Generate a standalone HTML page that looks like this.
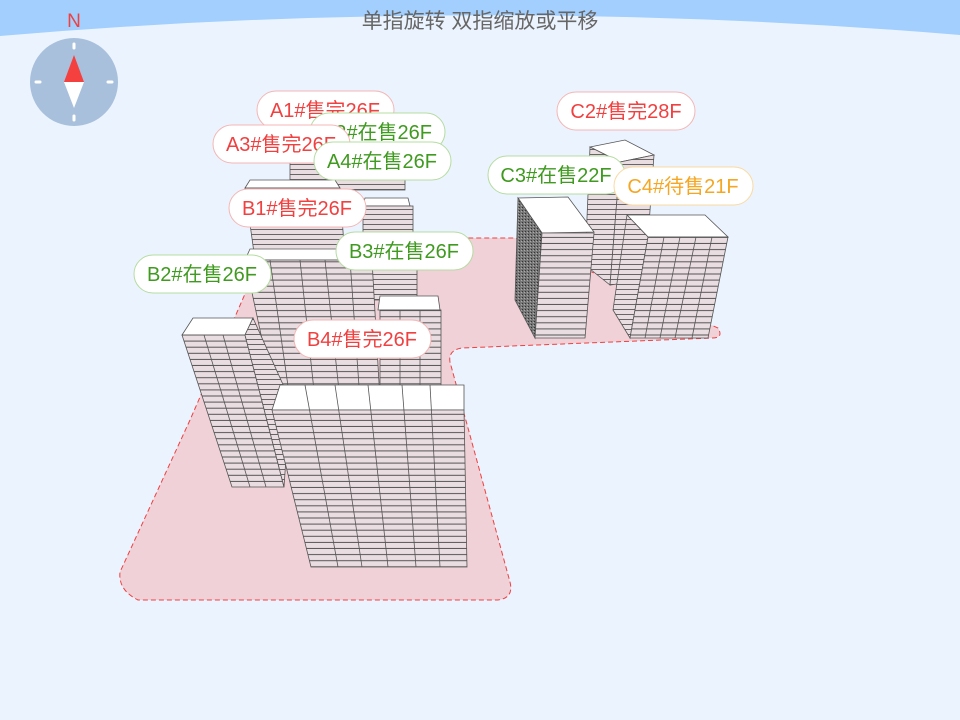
<!DOCTYPE html>
<html><head><meta charset="utf-8"><style>
html,body{margin:0;padding:0;background:#ebf4fe;}
svg{display:block}
text{font-family:"Liberation Sans","Noto Sans CJK SC",sans-serif;}
</style></head><body>
<svg width="960" height="720" viewBox="0 0 960 720" xmlns="http://www.w3.org/2000/svg">
<defs>
<pattern id="fl" width="10" height="6.1" patternUnits="userSpaceOnUse">
<rect width="10" height="6.1" fill="#e9dde1"/>
<rect y="5.1" width="10" height="1" fill="#555"/>
</pattern>
<pattern id="fl2" width="10" height="5" patternUnits="userSpaceOnUse">
<rect width="10" height="5" fill="#e9dde1"/>
<rect y="4" width="10" height="1" fill="#666"/>
</pattern>
<pattern id="dk" width="3" height="3" patternUnits="userSpaceOnUse">
<rect width="3" height="3" fill="#777"/>
<rect width="1" height="1" fill="#333"/><rect x="2" y="1" width="1" height="1" fill="#aaa"/>
</pattern>
</defs>
<rect width="960" height="720" fill="#ebf4fe"/>
<path d="M0 0 H960 V35 Q480 -5 0 36 Z" fill="#a2cffe"/>
<text x="480" y="28" font-size="21" fill="#666" text-anchor="middle">单指旋转 双指缩放或平移</text>

<!-- compass -->
<text x="74" y="27" font-size="19" fill="#f04040" text-anchor="middle">N</text>
<circle cx="74" cy="82" r="44" fill="#a8c0dc"/>
<g stroke="#fff" stroke-width="3" stroke-linecap="round">
<line x1="74" y1="44" x2="74" y2="48"/><line x1="74" y1="116" x2="74" y2="120"/>
<line x1="36" y1="82" x2="40" y2="82"/><line x1="108" y1="82" x2="112" y2="82"/>
</g>
<polygon points="74,55 64,82 84,82" fill="#f54040"/>
<polygon points="64,82 84,82 74,108" fill="#fff"/>

<!-- ground -->
<path d="M248,287 L255,245 L400,238 L515,238 L700,320 L718,328 Q724,338 712,338 L462,348 Q448,350 450,362 L510,582 Q514,598 498,600 L138,600 Q118,590 120,572 L190,420 Z" fill="#efd1d7" stroke="#f04040" stroke-dasharray="5,3" stroke-width="1"/>

<g stroke="#555" stroke-width="0.8">
<rect x="290" y="160" width="115" height="30" fill="url(#fl2)"/>
<polygon points="250,180 335,180 340,188 245,188" fill="#fff"/>
<polygon points="245,188 340,188 345,260 255,260" fill="url(#fl2)"/>
<polygon points="365,198 408,198 410,206 363,206" fill="#fff"/>
<rect x="363" y="206" width="50" height="50" fill="url(#fl2)"/>
<rect x="372" y="250" width="45" height="50" fill="url(#fl2)"/>
<polygon points="250,249 340,249 345,260 245,260" fill="#fff"/>
<polygon points="245,260 372,260 380,400 275,400" fill="url(#fl)"/>
<line x1="270" y1="260" x2="290" y2="400"/><line x1="300" y1="260" x2="315" y2="400"/><line x1="325" y1="260" x2="340" y2="400"/><line x1="350" y1="260" x2="360" y2="400"/>
<polygon points="380,296 438,296 440,310 378,310" fill="#fff"/>
<rect x="380" y="310" width="61" height="78" fill="url(#fl)"/>
<line x1="400" y1="310" x2="400" y2="388"/><line x1="420" y1="310" x2="420" y2="388"/>
<polygon points="193,318 253,318 245,335 182,335" fill="#fff"/>
<polygon points="182,335 245,335 284,487 232,487" fill="url(#fl)"/>
<polygon points="245,335 253,318 290,400 284,487" fill="url(#fl2)"/>
<line x1="204" y1="335" x2="250" y2="487"/><line x1="223" y1="335" x2="266" y2="487"/>
<polygon points="280,385 464,385 464,410 272,410" fill="#fff"/>
<polygon points="272,410 464,410 467,567 311,567" fill="url(#fl)"/>
<line x1="305" y1="385" x2="338" y2="567"/><line x1="335" y1="385" x2="362" y2="567"/><line x1="368" y1="385" x2="388" y2="567"/><line x1="402" y1="385" x2="416" y2="567"/><line x1="430" y1="385" x2="440" y2="567"/>
<polygon points="590,147 625,140 654,155 620,162" fill="#fff"/>
<polygon points="590,147 620,162 610,285 585,265" fill="url(#fl2)"/>
<polygon points="620,162 654,155 645,280 610,285" fill="url(#fl2)"/>
<polygon points="518,198 568,197 594,232 542,233" fill="#fff"/>
<polygon points="518,198 542,233 535,338 515,300" fill="url(#dk)"/>
<polygon points="542,233 594,233 585,338 535,338" fill="url(#fl)"/>
<polygon points="627,215 705,215 728,237 648,237" fill="#fff"/>
<polygon points="627,215 648,237 630,338 613,310" fill="url(#fl2)"/>
<polygon points="648,237 728,237 708,338 630,338" fill="url(#fl)"/>
<line x1="664" y1="237" x2="645" y2="338"/><line x1="680" y1="237" x2="660" y2="338"/><line x1="696" y1="237" x2="675" y2="338"/><line x1="712" y1="237" x2="692" y2="338"/>
</g>

<g font-size="20" text-anchor="middle">
<rect x="257" y="91" width="137" height="38" rx="19" fill="#fff" stroke="#f5b5b5"/>
<text x="325" y="117" fill="#f04040">A1#售完26F</text>
<rect x="310" y="113" width="135" height="38" rx="19" fill="#fff" stroke="#b5dca0"/>
<text x="377" y="139" fill="#3f9a1f">A2#在售26F</text>
<rect x="213" y="125" width="137" height="38" rx="19" fill="#fff" stroke="#f5b5b5"/>
<text x="281" y="151" fill="#f04040">A3#售完26F</text>
<rect x="314" y="142" width="137" height="38" rx="19" fill="#fff" stroke="#b5dca0"/>
<text x="382" y="168" fill="#3f9a1f">A4#在售26F</text>
<rect x="229" y="189" width="137" height="38" rx="19" fill="#fff" stroke="#f5b5b5"/>
<text x="297" y="215" fill="#f04040">B1#售完26F</text>
<rect x="336" y="232" width="137" height="38" rx="19" fill="#fff" stroke="#b5dca0"/>
<text x="404" y="258" fill="#3f9a1f">B3#在售26F</text>
<rect x="134" y="255" width="137" height="38" rx="19" fill="#fff" stroke="#b5dca0"/>
<text x="202" y="281" fill="#3f9a1f">B2#在售26F</text>
<rect x="294" y="320" width="137" height="38" rx="19" fill="#fff" stroke="#f5b5b5"/>
<text x="362" y="346" fill="#f04040">B4#售完26F</text>
<rect x="557" y="92" width="138" height="38" rx="19" fill="#fff" stroke="#f5b5b5"/>
<text x="626" y="118" fill="#f04040">C2#售完28F</text>
<rect x="488" y="156" width="137" height="38" rx="19" fill="#fff" stroke="#b5dca0"/>
<text x="556" y="182" fill="#3f9a1f">C3#在售22F</text>
<rect x="614" y="167" width="139" height="38" rx="19" fill="#fff" stroke="#fad9a0"/>
<text x="683" y="193" fill="#f5a623">C4#待售21F</text>
</g>
</svg>
</body></html>
